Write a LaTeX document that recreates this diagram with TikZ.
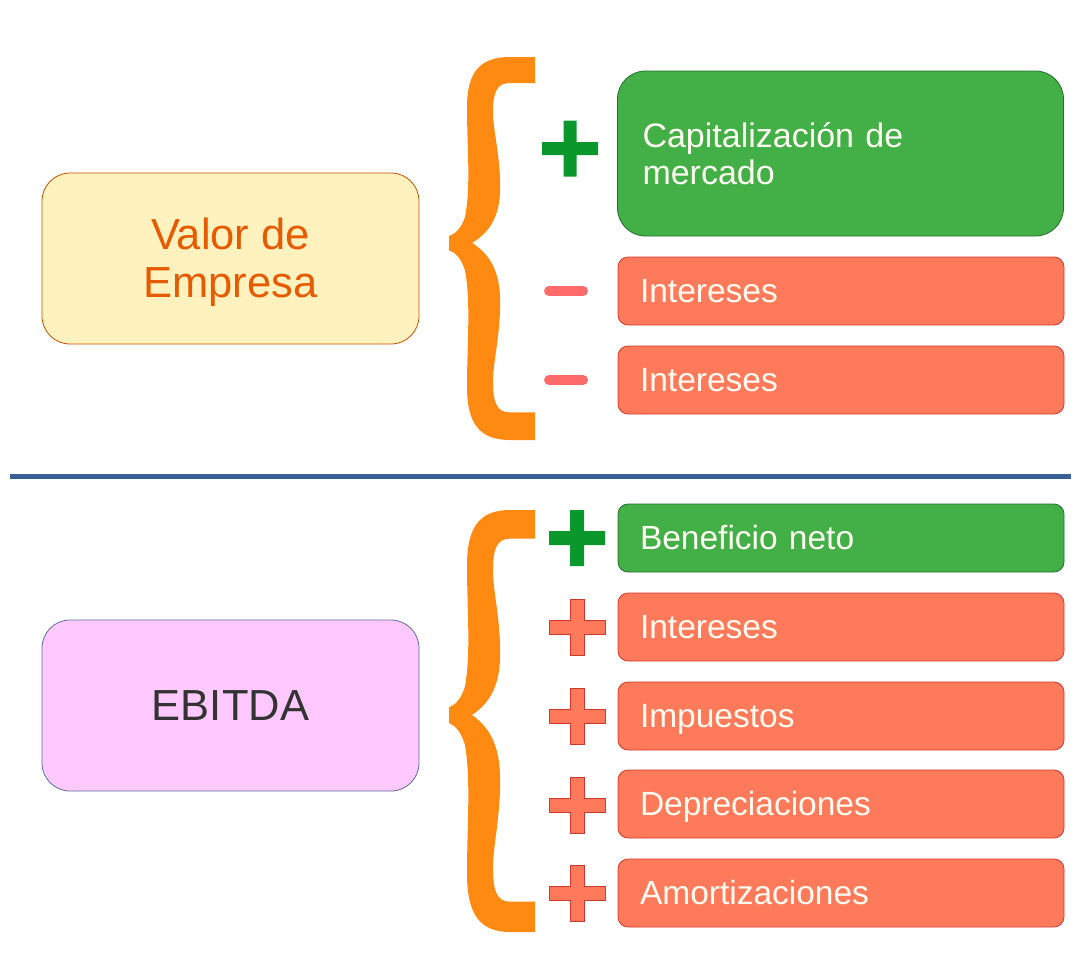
\documentclass[tikz,border=0pt]{standalone}
\usepackage{fontspec}
\setmainfont{Liberation Sans}
\usepackage{tikz}

\definecolor{greenfill}{RGB}{66,175,71}
\definecolor{greenline}{RGB}{40,110,45}
\definecolor{redfill}{RGB}{255,122,90}
\definecolor{redline}{RGB}{210,55,45}
\definecolor{yellowfill}{RGB}{255,242,191}
\definecolor{yellowline}{RGB}{200,80,0}
\definecolor{pinkfill}{RGB}{255,200,255}
\definecolor{pinkline}{RGB}{90,110,160}
\definecolor{bracecol}{RGB}{255,138,18}
\definecolor{pluscol}{RGB}{10,152,45}
\definecolor{minuscol}{RGB}{255,107,107}
\definecolor{sepcol}{RGB}{58,95,150}
\definecolor{valorcol}{RGB}{230,90,0}
\definecolor{ebitdacol}{RGB}{51,51,51}
\definecolor{itemtext}{RGB}{255,252,242}

\tikzset{
  leftbox/.style={rounded corners=28pt, line width=0.8pt, minimum width=377pt,
    minimum height=171pt, align=center, font=\fontsize{43.5}{48}\selectfont},
  itembox/.style={rounded corners=10pt, line width=0.8pt, minimum height=68pt,
    text width=402pt, inner xsep=22pt, align=left, text=itemtext,
    text height=25.5pt, text depth=3.5pt, font=\fontsize{33.5}{38}\selectfont},
  greenbox/.style={itembox, fill=greenfill, draw=greenline},
  redbox/.style={itembox, fill=redfill, draw=redline},
  plusgreen/.style={fill=pluscol},
  plusred/.style={fill=redfill, draw=redline, line width=0.8pt},
  minusbar/.style={draw=minuscol, line width=10pt, line cap=round},
  bracefill/.style={fill=bracecol}
}

% half of a curly brace, tip at the origin, cusp 186 below
\newcommand{\halfbrace}{%
  \path[bracefill] (0,0) -- (-25,0) .. controls (-55,0) and (-68,15) .. (-68,50)
    .. controls (-68,90) and (-64,130) .. (-70,160)
    .. controls (-74,172) and (-80,177) .. (-86,179) -- (-86,186) -- (-63,186)
    .. controls (-50,178) and (-36,165) .. (-35,135)
    .. controls (-34,100) and (-42,75) .. (-42,55)
    .. controls (-42,35) and (-38,26) .. (-25,26) -- (0,26) -- cycle;}

% plus sign at a point
\newcommand{\plussign}[3]{%
  \path[#1] (#2) ++(-#3,-28) -- ++(2*#3,0) -- ++(0,28-#3) -- ++(28-#3,0)
    -- ++(0,2*#3) -- ++(#3-28,0) -- ++(0,28-#3) -- ++(-2*#3,0) -- ++(0,#3-28)
    -- ++(#3-28,0) -- ++(0,-2*#3) -- ++(28-#3,0) -- cycle;}

\begin{document}
\begin{tikzpicture}[x=1pt,y=-1pt]
\useasboundingbox (0,0) rectangle (1086,953);

% Valor de Empresa
\node[leftbox, fill=yellowfill, draw=yellowline, text=valorcol] (valor) at (230.5,258.5) {\rule{0pt}{40pt}Valor de\\Empresa};

\begin{scope}[shift={(535,57)}] \halfbrace \end{scope}
\begin{scope}[shift={(535,440)},yscale=-1.06] \halfbrace \end{scope}

\node[greenbox, minimum height=165pt, rounded corners=28pt, text height=, text depth=,
  font=\fontsize{34}{37}\selectfont, inner xsep=25pt, text width=396pt] (capital) at (840.5,153.5) {Capitalización de\\mercado};
\node[redbox] (int1) at (841,291) {Intereses};
\node[redbox] (int2) at (841,380) {Intereses};

\plussign{plusgreen}{570,148.5}{6.5}
\draw[minusbar] (549,291) -- (583,291);
\draw[minusbar] (549,380) -- (583,380);

% separator
\draw[sepcol, line width=5pt] (10,476) -- (1071,476);

% EBITDA
\node[leftbox, fill=pinkfill, draw=pinkline, text=ebitdacol] (ebitda) at (230.5,705.5) {EBITDA};

\begin{scope}[shift={(535,510)},yscale=1.102] \halfbrace \end{scope}
\begin{scope}[shift={(535,932)},yscale=-1.167] \halfbrace \end{scope}

\node[greenbox] (neto) at (841,538) {Beneficio neto};
\node[redbox] (int3) at (841,627) {Intereses};
\node[redbox] (imp) at (841,716) {Impuestos};
\node[redbox] (dep) at (841,804) {Depreciaciones};
\node[redbox] (amort) at (841,893) {Amortizaciones};

\plussign{plusgreen}{577,538}{7}
\foreach \y in {627,716,805,893}{
  \plussign{plusred}{577.5,\y}{7}
}
\end{tikzpicture}
\end{document}
